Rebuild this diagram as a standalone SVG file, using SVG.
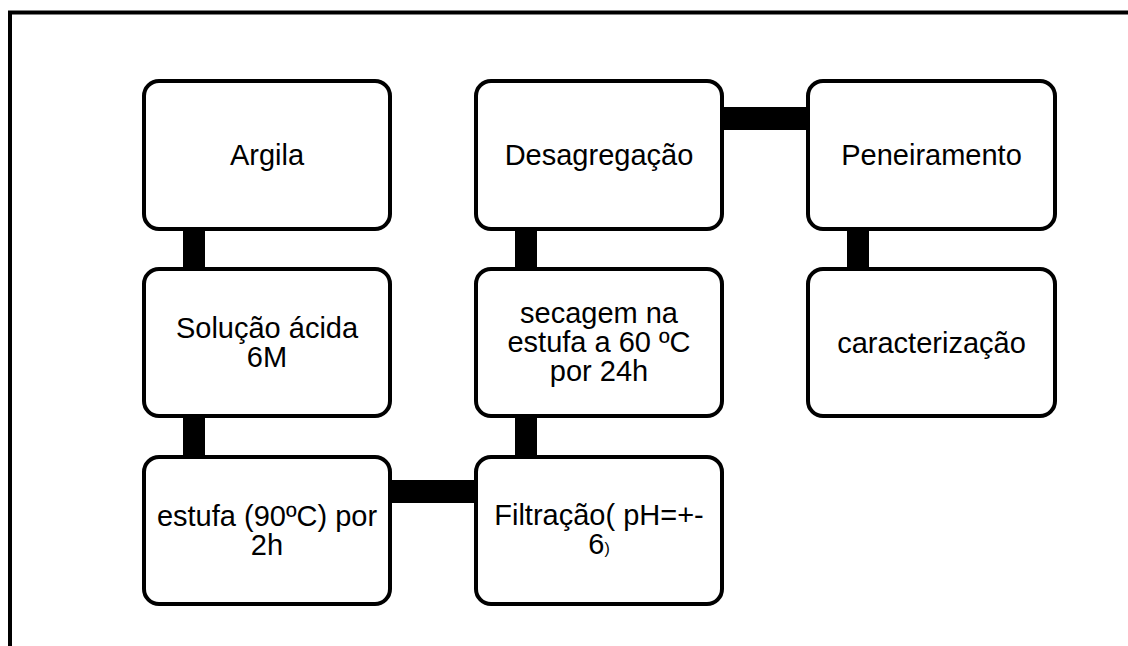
<svg xmlns="http://www.w3.org/2000/svg" width="1128" height="646" viewBox="0 0 1128 646">
  <style>
    .box { fill: #ffffff; stroke: #000000; stroke-width: 4; }
    .conn { fill: #000000; stroke: none; }
    .lbl { font-family: "Liberation Sans", Arial, sans-serif; font-size: 29px; fill: #000000; text-anchor: middle; }
    .frame { fill: none; stroke: #000000; stroke-width: 4; }
  </style>
  <rect width="1128" height="646" fill="#ffffff"/>
  <rect class="frame" x="10" y="12.5" width="1140" height="660"/>
  <g id="connectors">
    <rect class="conn" x="183" y="225" width="22" height="48"/>
    <rect class="conn" x="183" y="413" width="22" height="48"/>
    <rect class="conn" x="386" y="480" width="94" height="23"/>
    <rect class="conn" x="515" y="413" width="22" height="48"/>
    <rect class="conn" x="515" y="225" width="22" height="48"/>
    <rect class="conn" x="718" y="107" width="94" height="23"/>
    <rect class="conn" x="847" y="225" width="22" height="48"/>
  </g>
  <g id="node-argila">
    <rect class="box" x="144" y="81" width="246" height="148" rx="15"/>
    <text class="lbl" x="267" y="165">Argila</text>
  </g>
  <g id="node-solucao">
    <rect class="box" x="144" y="269" width="246" height="147" rx="15"/>
    <text class="lbl" x="267" y="338">Solução ácida<tspan x="267" dy="29">6M</tspan></text>
  </g>
  <g id="node-estufa">
    <rect class="box" x="144" y="457" width="246" height="147" rx="15"/>
    <text class="lbl" x="267" y="526">estufa (90ºC) por<tspan x="267" dy="29">2h</tspan></text>
  </g>
  <g id="node-filtracao">
    <rect class="box" x="476" y="457" width="246" height="147" rx="15"/>
    <text class="lbl" x="599" y="525">Filtração( pH=+-<tspan x="599" dy="29">6</tspan><tspan font-size="16">)</tspan></text>
  </g>
  <g id="node-secagem">
    <rect class="box" x="476" y="269" width="246" height="147" rx="15"/>
    <text class="lbl" x="599" y="323">secagem na<tspan x="599" dy="29">estufa a 60 ºC</tspan><tspan x="599" dy="29">por 24h</tspan></text>
  </g>
  <g id="node-desagregacao">
    <rect class="box" x="476" y="81" width="246" height="148" rx="15"/>
    <text class="lbl" x="599" y="165">Desagregação</text>
  </g>
  <g id="node-peneiramento">
    <rect class="box" x="808" y="81" width="247" height="148" rx="15"/>
    <text class="lbl" x="931.5" y="165">Peneiramento</text>
  </g>
  <g id="node-caracterizacao">
    <rect class="box" x="808" y="269" width="247" height="147" rx="15"/>
    <text class="lbl" x="931.5" y="353">caracterização</text>
  </g>
</svg>
